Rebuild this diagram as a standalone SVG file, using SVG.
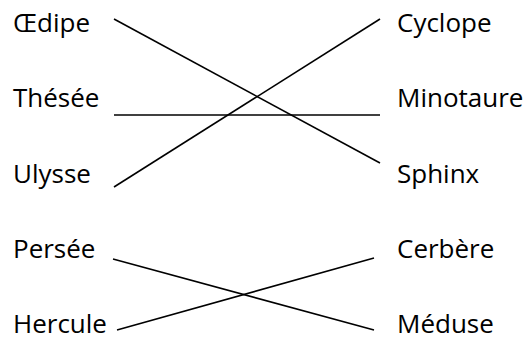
<svg xmlns="http://www.w3.org/2000/svg" width="530" height="340" viewBox="0 0 530 340">
<style>
text{font-family:"Open Sans","DejaVu Sans",sans-serif;font-size:26px;fill:#000}
.c line{stroke:#000;stroke-width:1.6}
</style>
<rect width="530" height="340" fill="#fff"/>
<g class="c" id="connectors">
<line x1="114" y1="19" x2="380" y2="163"/>
<line x1="114" y1="115" x2="380" y2="115"/>
<line x1="114" y1="187" x2="380" y2="19"/>
<line x1="113" y1="259" x2="374" y2="330"/>
<line x1="117" y1="330" x2="374" y2="258"/>
</g>
<g id="oedipe"><text x="13" y="32">Œdipe</text></g>
<g id="thesee"><text x="13" y="107">Thésée</text></g>
<g id="ulysse"><text x="13" y="183">Ulysse</text></g>
<g id="persee"><text x="13" y="258">Persée</text></g>
<g id="hercule"><text x="13" y="333">Hercule</text></g>
<g id="cyclope"><text x="397" y="32">Cyclope</text></g>
<g id="minotaure"><text x="397" y="107">Minotaure</text></g>
<g id="sphinx"><text x="397" y="183">Sphinx</text></g>
<g id="cerbere"><text x="397" y="258">Cerbère</text></g>
<g id="meduse"><text x="397" y="333">Méduse</text></g>
</svg>
